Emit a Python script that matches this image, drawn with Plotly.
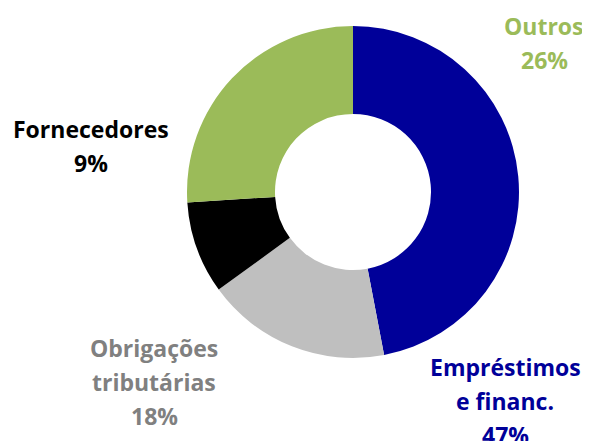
import plotly.graph_objects as go

labels = ["Empréstimos e financ.", "Obrigações tributárias", "Fornecedores", "Outros"]
values = [47, 18, 9, 26]
colors = ["#000099", "#BFBFBF", "#000000", "#9BBB59"]
text_colors = ["#000099", "#808080", "#000000", "#9BBB59"]
label_lines = [["Empréstimos", "e financ."], ["Obrigações", "tributárias"], ["Fornecedores"], ["Outros"]]
label_pos = [(505, 367), (154, 348), (91, 129), (544, 26)]  # center x, first line y (page px)

# page offset of 8px (browser body margin)
OFF = 8
W, H = 590 - OFF, 441 - OFF
cx, cy, r = 353 - OFF, 192 - OFF, 166

fig = go.Figure(go.Pie(
    labels=labels, values=values, hole=0.47, sort=False, direction="clockwise",
    rotation=0, marker=dict(colors=colors, line=dict(width=0)),
    textinfo="none", hoverinfo="label+percent", showlegend=False,
    domain=dict(x=[(cx - r) / W, (cx + r) / W], y=[(H - cy - r) / H, (H - cy + r) / H]),
))

line_gap = 34
annotations = []
for lines, val, col, (px, py) in zip(label_lines, values, text_colors, label_pos):
    all_lines = lines + [f"{val}%"]
    for i, t in enumerate(all_lines):
        annotations.append(dict(
            x=(px - OFF) / W, y=1 - (py - OFF + i * line_gap) / H, xref="paper", yref="paper",
            text=t, showarrow=False, xanchor="center", yanchor="middle",
            font=dict(family="Open Sans", size=23, color=col, weight="bold"),
        ))

fig.update_layout(
    width=W, height=H, margin=dict(l=0, r=0, t=0, b=0),
    paper_bgcolor="white", plot_bgcolor="white", annotations=annotations,
)
fig.write_html("out.html")
